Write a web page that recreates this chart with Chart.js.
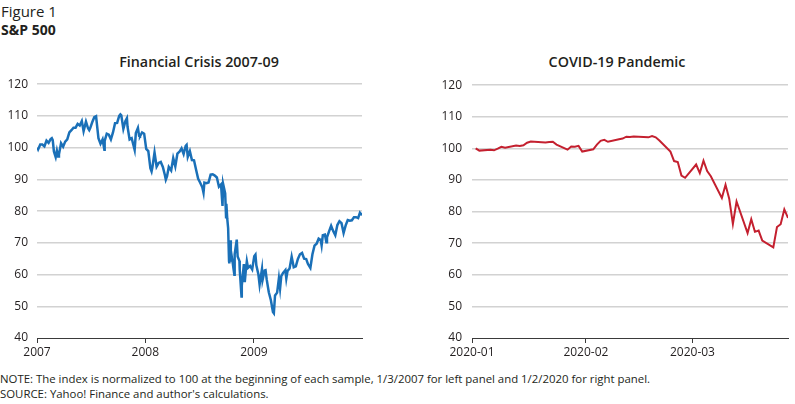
<!DOCTYPE html>
<html>
<head>
<meta charset="utf-8">
<script src="https://cdn.jsdelivr.net/npm/chart.js@4.4.1/dist/chart.umd.min.js"></script>
<style>
  body { margin: 0; width: 795px; height: 404px; background: #fff; position: relative; overflow: hidden;
         font-family: "Open Sans", sans-serif; color: #231f20; }
  .txt { position: absolute; white-space: nowrap; }
  #fig { left: 1px; top: 1px; font-size: 15px; }
  #sub { left: 1px; top: 20px; font-size: 14px; font-weight: 700; }
  .ttl { top: 52px; font-size: 14.3px; font-weight: 600; transform: translateX(-50%); }
  #t1 { left: 199px; }
  #t2 { left: 617px; }
  .note { left: 0; font-size: 11.4px; }
  #n1 { top: 371px; }
  #n2 { top: 386px; }
  .box { position: absolute; }
  #left { left: 0; top: 68px; width: 370px; height: 298px; }
  #right { left: 430px; top: 68px; width: 365px; height: 298px; }
</style>
</head>
<body>
<div class="txt" id="fig">Figure 1</div>
<div class="txt" id="sub">S&amp;P 500</div>
<div class="txt ttl" id="t1">Financial Crisis 2007-09</div>
<div class="txt ttl" id="t2">COVID-19 Pandemic</div>
<div class="box" id="left"><canvas id="crisisChart"></canvas></div>
<div class="box" id="right"><canvas id="covidChart"></canvas></div>
<div class="txt note" id="n1">NOTE: The index is normalized to 100 at the beginning of each sample, 1/3/2007 for left panel and 1/2/2020 for right panel.</div>
<div class="txt note" id="n2">SOURCE: Yahoo! Finance and author's calculations.</div>

<script>
// S&P 500, normalized to 100 on 1/3/2007
const crisisDates = [
  '2007-01-03','2007-01-05','2007-01-12','2007-01-19','2007-01-26','2007-02-02','2007-02-09','2007-02-16','2007-02-20','2007-02-23',
  '2007-02-27','2007-03-02','2007-03-05','2007-03-09','2007-03-13','2007-03-16','2007-03-23','2007-03-30','2007-04-06','2007-04-13',
  '2007-04-20','2007-04-27','2007-05-04','2007-05-11','2007-05-18','2007-05-25','2007-06-01','2007-06-07','2007-06-15','2007-06-22',
  '2007-06-26','2007-06-29','2007-07-06','2007-07-13','2007-07-19','2007-07-27','2007-08-03','2007-08-10','2007-08-16','2007-08-17',
  '2007-08-24','2007-08-31','2007-09-07','2007-09-14','2007-09-21','2007-09-28','2007-10-05','2007-10-09','2007-10-12','2007-10-19',
  '2007-10-26','2007-10-31','2007-11-02','2007-11-09','2007-11-16','2007-11-26','2007-11-30','2007-12-07','2007-12-11','2007-12-14',
  '2007-12-21','2007-12-28','2008-01-04','2008-01-11','2008-01-18','2008-01-22','2008-01-25','2008-02-01','2008-02-08','2008-02-15',
  '2008-02-22','2008-02-29','2008-03-07','2008-03-10','2008-03-14','2008-03-20','2008-03-28','2008-04-04','2008-04-11','2008-04-18',
  '2008-04-25','2008-05-02','2008-05-09','2008-05-16','2008-05-19','2008-05-23','2008-05-30','2008-06-06','2008-06-13','2008-06-20',
  '2008-06-27','2008-07-03','2008-07-11','2008-07-15','2008-07-18','2008-07-25','2008-08-01','2008-08-08','2008-08-15','2008-08-22',
  '2008-08-29','2008-09-05','2008-09-12','2008-09-17','2008-09-19','2008-09-26','2008-09-29','2008-09-30','2008-10-03','2008-10-06',
  '2008-10-09','2008-10-10','2008-10-13','2008-10-15','2008-10-17','2008-10-22','2008-10-24','2008-10-27','2008-10-28','2008-10-31',
  '2008-11-04','2008-11-07','2008-11-13','2008-11-14','2008-11-20','2008-11-21','2008-11-28','2008-12-01','2008-12-05','2008-12-08',
  '2008-12-12','2008-12-19','2008-12-26','2009-01-02','2009-01-06','2009-01-09','2009-01-16','2009-01-20','2009-01-23','2009-01-28',
  '2009-01-30','2009-02-06','2009-02-09','2009-02-13','2009-02-20','2009-02-27','2009-03-06','2009-03-09','2009-03-13','2009-03-20',
  '2009-03-26','2009-03-30','2009-04-03','2009-04-09','2009-04-17','2009-04-20','2009-04-24','2009-05-01','2009-05-08','2009-05-15',
  '2009-05-22','2009-05-29','2009-06-05','2009-06-12','2009-06-19','2009-06-26','2009-07-02','2009-07-10','2009-07-17','2009-07-24',
  '2009-07-31','2009-08-07','2009-08-14','2009-08-17','2009-08-21','2009-08-28','2009-09-02','2009-09-04','2009-09-11','2009-09-18',
  '2009-09-25','2009-10-02','2009-10-09','2009-10-16','2009-10-23','2009-10-30','2009-11-06','2009-11-13','2009-11-20','2009-11-27',
  '2009-12-04','2009-12-11','2009-12-18','2009-12-24','2009-12-31'
];
const crisisIndex = [
  100.0, 99.5, 101.0, 101.0, 100.4, 102.2, 101.5, 102.7, 103.0, 102.4,
  98.8, 97.9, 97.0, 99.0, 97.2, 97.9, 101.4, 100.3, 101.9, 102.6,
  104.8, 105.5, 106.3, 106.3, 107.5, 107.0, 108.4, 105.2, 108.2, 106.1,
  105.5, 106.1, 108.0, 109.6, 109.9, 103.0, 101.2, 102.6, 99.3, 102.1,
  104.4, 104.1, 102.6, 104.8, 107.7, 107.8, 110.0, 110.5, 110.2, 105.9,
  108.4, 109.3, 106.6, 102.6, 103.0, 99.3, 104.6, 106.2, 103.7, 103.6,
  104.8, 104.4, 99.6, 98.9, 93.5, 92.5, 93.9, 98.5, 94.0, 95.2,
  95.5, 93.9, 91.3, 89.9, 90.9, 93.9, 92.8, 96.7, 94.1, 98.1,
  98.7, 99.8, 98.0, 100.6, 100.9, 97.1, 98.9, 96.1, 96.0, 93.0,
  90.2, 89.1, 87.5, 85.8, 89.0, 88.8, 89.0, 91.5, 91.6, 91.2,
  90.6, 87.7, 88.4, 81.6, 88.6, 85.6, 78.1, 82.3, 77.6, 74.6,
  64.2, 63.5, 70.8, 64.1, 66.4, 63.3, 61.9, 59.9, 66.4, 68.4,
  71.0, 65.7, 64.3, 61.6, 53.1, 56.5, 63.3, 57.6, 61.8, 64.2,
  62.1, 62.7, 61.6, 65.8, 66.3, 62.9, 60.0, 56.8, 58.7, 61.7,
  58.3, 61.3, 61.4, 58.4, 54.4, 51.9, 48.2, 47.8, 53.4, 54.3,
  58.8, 55.6, 59.5, 60.5, 61.4, 58.8, 61.1, 61.9, 65.6, 62.3,
  62.6, 64.9, 66.4, 66.8, 65.0, 64.9, 63.3, 62.1, 66.4, 69.1,
  69.7, 71.3, 70.9, 69.2, 72.4, 72.6, 70.2, 71.7, 73.6, 75.4,
  73.7, 72.4, 75.6, 76.8, 76.2, 73.1, 75.5, 77.2, 77.0, 77.1,
  78.1, 78.1, 77.8, 79.5, 78.7
];

// S&P 500, normalized to 100 on 1/2/2020
const covidDates = [
  '2020-01-02','2020-01-03','2020-01-06','2020-01-07','2020-01-08','2020-01-09','2020-01-10','2020-01-13','2020-01-14','2020-01-15',
  '2020-01-16','2020-01-17','2020-01-21','2020-01-22','2020-01-23','2020-01-24','2020-01-27','2020-01-28','2020-01-29','2020-01-30',
  '2020-01-31','2020-02-03','2020-02-04','2020-02-05','2020-02-06','2020-02-07','2020-02-10','2020-02-11','2020-02-12','2020-02-13',
  '2020-02-14','2020-02-18','2020-02-19','2020-02-20','2020-02-21','2020-02-24','2020-02-25','2020-02-26','2020-02-27','2020-02-28',
  '2020-03-02','2020-03-03','2020-03-04','2020-03-05','2020-03-06','2020-03-09','2020-03-10','2020-03-11','2020-03-12','2020-03-13',
  '2020-03-16','2020-03-17','2020-03-18','2020-03-19','2020-03-20','2020-03-23','2020-03-24','2020-03-25','2020-03-26','2020-03-27'
];
const covidIndex = [
  100.0, 99.3, 99.6, 99.4, 99.9, 100.5, 100.2, 100.9, 100.8, 101.0,
  101.8, 102.2, 101.9, 102.0, 102.1, 101.2, 99.6, 100.6, 100.5, 100.8,
  99.0, 99.7, 101.2, 102.4, 102.7, 102.1, 102.9, 103.1, 103.7, 103.6,
  103.8, 103.5, 103.9, 103.5, 102.5, 99.0, 96.0, 95.7, 91.4, 90.7,
  94.9, 92.2, 96.1, 92.8, 91.2, 84.3, 88.5, 84.1, 76.1, 83.2,
  73.2, 77.6, 73.6, 74.0, 70.8, 68.7, 75.1, 76.0, 80.7, 78.0
];

const yTicks = [40, 50, 60, 70, 80, 90, 100, 110, 120];
const crisisTickDates = ['2007-01-01', '2008-01-01', '2009-01-01'];
const crisisTickLabels = ['2007', '2008', '2009'];
const covidTickDates = ['2020-01-01', '2020-02-01', '2020-03-01'];
const covidTickLabels = ['2020-01', '2020-02', '2020-03'];

const DAY = 86400000;
const dayOf = (d, start) => (Date.parse(d) - Date.parse(start)) / DAY;

function makeChart(id, opts) {
  const start = opts.tickDates[0];
  const points = opts.dates.map((d, i) => ({ x: dayOf(d, start), y: opts.values[i] }));
  const tickPos = opts.tickDates.map(d => dayOf(d, start));
  const font = { family: '"Open Sans", sans-serif', size: 12 };

  return new Chart(document.getElementById(id), {
    type: 'line',
    data: {
      datasets: [{
        data: points,
        borderColor: opts.color,
        borderWidth: opts.width,
        pointRadius: 0,
        tension: 0,
        fill: false
      }]
    },
    options: {
      responsive: true,
      maintainAspectRatio: false,
      animation: false,
      layout: { padding: { top: 0, right: opts.padRight, left: 0, bottom: 0 } },
      plugins: { legend: { display: false }, tooltip: { enabled: false } },
      scales: {
        x: {
          type: 'linear',
          min: 0,
          max: dayOf(opts.end, start),
          afterBuildTicks: scale => { scale.ticks = tickPos.map(v => ({ value: v })); },
          afterFit: scale => { scale.height = 28; },
          ticks: {
            autoSkip: false,
            maxRotation: 0,
            padding: 2,
            color: '#231f20',
            font: font,
            callback: v => opts.tickLabels[tickPos.indexOf(v)]
          },
          grid: { drawOnChartArea: false, drawTicks: true, tickLength: 5, color: '#3a3a3a', lineWidth: 1 },
          border: { display: true, color: '#3a3a3a', width: 1 }
        },
        y: {
          min: 40,
          max: 120,
          afterBuildTicks: scale => { scale.ticks = yTicks.map(v => ({ value: v })); },
          afterFit: scale => { scale.width = opts.yWidth; },
          ticks: { padding: opts.yPad, color: '#231f20', font: font },
          grid: {
            drawTicks: false,
            lineWidth: 1.5,
            color: ctx => ctx.tick && ctx.tick.value === 40 ? 'rgba(0,0,0,0)' : '#d2d2d2'
          },
          border: { display: false }
        }
      }
    }
  });
}

makeChart('crisisChart', {
  dates: crisisDates, values: crisisIndex,
  tickDates: crisisTickDates, tickLabels: crisisTickLabels,
  end: '2009-12-31', color: '#1a70b8', width: 2.5,
  yWidth: 37, yPad: 9, padRight: 8
});

makeChart('covidChart', {
  dates: covidDates, values: covidIndex,
  tickDates: covidTickDates, tickLabels: covidTickLabels,
  end: '2020-03-27', color: '#c4202f', width: 2,
  yWidth: 42, yPad: 10, padRight: 7
});
</script>
</body>
</html>
